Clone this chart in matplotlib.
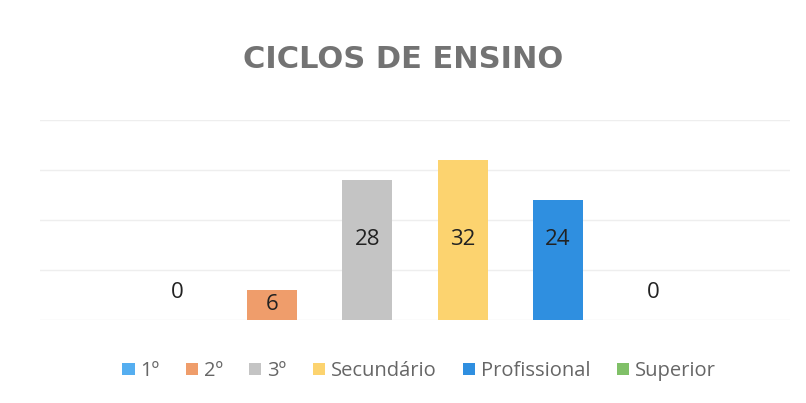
import matplotlib.pyplot as plt
from matplotlib.patches import Patch

categories = ["1º", "2º", "3º", "Secundário", "Profissional", "Superior"]
values = [0, 6, 28, 32, 24, 0]
colors = ["#55aef0", "#ef9d6b", "#c4c4c4", "#fcd36f", "#2f8fe0", "#80c068"]

plt.rcParams["font.family"] = ["Open Sans", "DejaVu Sans"]

fig = plt.figure(figsize=(8.06, 4.03), dpi=100)
ax = fig.add_axes([40 / 806, 83 / 403, 750 / 806, 200 / 403])

x = range(len(categories))
ax.bar(x, values, width=0.525, color=colors, zorder=2)

# data labels
for i, v in enumerate(values):
    if v == 0:
        y = 5.5
    elif v < 20:
        y = v / 2
    else:
        y = 16
    ax.text(i, y, str(v), ha="center", va="center", fontsize=16, color="#222222", zorder=3)

ax.set_xlim(-1.435, 6.435)
ax.set_ylim(0, 40)
ax.set_yticks([0, 10, 20, 30, 40])
ax.grid(axis="y", color="#eeeeee", linewidth=1, zorder=0)
ax.tick_params(left=False, bottom=False, labelleft=False, labelbottom=False)
for s in ax.spines.values():
    s.set_visible(False)

fig.text(0.5, 1 - 60 / 403, "CICLOS DE ENSINO", ha="center", va="center",
         fontsize=22, fontweight="bold", color="#737373", family="DejaVu Sans")

handles = [Patch(facecolor=c, label=l) for c, l in zip(colors, categories)]
fig.legend(handles=handles, loc="center", bbox_to_anchor=(419 / 806, 1 - 371 / 403),
           ncol=6, frameon=False, fontsize=14.5, labelcolor="#666666",
           handlelength=0.6, handleheight=0.6, handletextpad=0.3, columnspacing=1.3)

fig.savefig("out.png", dpi=100, facecolor="white")
